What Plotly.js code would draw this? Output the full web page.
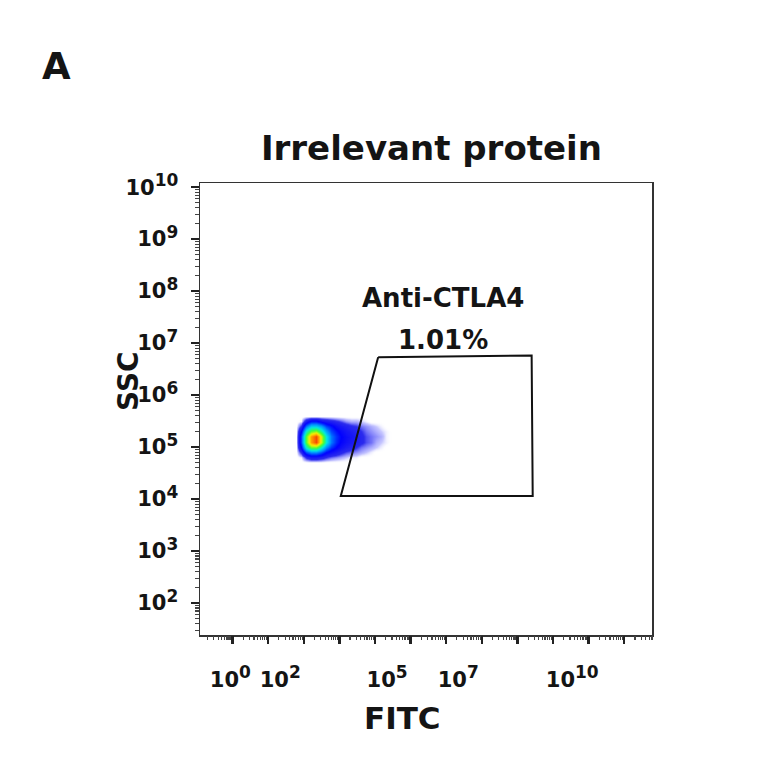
<!DOCTYPE html>
<html>
<head>
<meta charset="utf-8">
<script src="https://cdn.plot.ly/plotly-3.0.1.min.js"></script>
<style>html,body{margin:0;padding:0;background:#fff;}#chart{width:764px;height:764px;}</style>
</head>
<body>
<div id="chart"></div>
<script>
// ---- data (axis units are decades: log10 of the signal) ----
const panelLabel = "A";
const chartTitle = "Irrelevant protein";
const xTitle = "FITC";
const yTitle = "SSC";

// x tick labels and where they sit (decades)
const xTickPos = [0.6, 2.0, 5.0, 7.0, 10.2];
const xTickExp = ["0", "2", "5", "7", "10"];
// y tick labels
const yTickPos = [2, 3, 4, 5, 6, 7, 8, 9, 10];
const yTickExp = ["2", "3", "4", "5", "6", "7", "8", "9", "10"];

// density grid of the event cloud (FITC decades x SSC decades)
const densX = [2.46, 2.6, 2.74, 2.88, 3.02, 3.16, 3.3, 3.44, 3.58, 3.72, 3.86, 4.0, 4.14, 4.28, 4.42, 4.56, 4.7, 4.84, 4.98, 5.12];
const densY = [4.7, 4.8, 4.9, 5.0, 5.1, 5.2, 5.3, 5.4, 5.5, 5.6];
const densZ = [
  [0, 0.0, 0.0, 0.0, 0.0, 0.0, 0.0, 0.0, 0.0, 0.0, 0.0, 0.0, 0.0, 0.0, 0.0, 0.0, 0.0, 0.0, 0.0, 0],
  [0, 0.1, 0.8, 1.2, 1.2, 1.0, 0.7, 0.5, 0.4, 0.3, 0.2, 0.1, 0.1, 0.0, 0.0, 0.0, 0.0, 0.0, 0.0, 0],
  [0, 0.8, 2.5, 3.2, 3.2, 2.6, 1.8, 1.4, 1.1, 0.8, 0.6, 0.5, 0.4, 0.3, 0.2, 0.1, 0.0, 0.0, 0.0, 0],
  [0, 1.8, 4.8, 6.3, 6.3, 4.8, 3.2, 2.3, 1.8, 1.4, 1.1, 0.9, 0.7, 0.5, 0.4, 0.3, 0.2, 0.1, 0.0, 0],
  [0, 2.5, 6.2, 8.6, 9.6, 7.2, 4.6, 3.0, 2.2, 1.7, 1.4, 1.2, 1.0, 0.8, 0.6, 0.5, 0.3, 0.2, 0.1, 0],
  [0, 2.5, 6.2, 8.6, 9.6, 7.2, 4.6, 3.0, 2.3, 1.8, 1.5, 1.3, 1.1, 0.8, 0.6, 0.5, 0.4, 0.3, 0.1, 0],
  [0, 1.8, 4.8, 6.3, 6.7, 5.2, 3.6, 2.5, 2.0, 1.6, 1.3, 1.1, 0.9, 0.7, 0.5, 0.4, 0.3, 0.2, 0.1, 0],
  [0, 0.8, 3.0, 4.2, 4.2, 3.6, 2.5, 2.0, 1.5, 1.2, 1.0, 0.8, 0.7, 0.5, 0.4, 0.3, 0.2, 0.1, 0.0, 0],
  [0, 0.1, 1.2, 2.0, 2.0, 1.5, 1.2, 1.0, 0.8, 0.6, 0.4, 0.3, 0.3, 0.2, 0.1, 0.0, 0.0, 0.0, 0.0, 0],
  [0, 0.0, 0.0, 0.0, 0.0, 0.0, 0.0, 0.0, 0.0, 0.0, 0.0, 0.0, 0.0, 0.0, 0.0, 0.0, 0.0, 0.0, 0.0, 0]
];

// gate polygon (decades)
const gateX = [4.75, 9.06, 9.09, 3.70, 4.75];
const gateY = [6.73, 6.76, 4.06, 4.06, 6.73];
const gateName = "Anti-CTLA4";
const gatePct = "1.01%";
const gateLabelX = 6.57;
const gateLabelY = [7.87, 7.06];

// ---- presentation ----
const xRange = [-0.253, 12.44];
const yRange = [1.385, 10.08];
const FONT = "DejaVu Sans, Arial, sans-serif";
const INK = "#141414";
const pow10 = e => "<b>10<sup><span style=\"font-size:17px\">" + e + "</span></sup></b>";

function logTicks(start, lo, hi) {
  const major = [], minor = [];
  for (let d = Math.floor(lo) - 1; d <= Math.ceil(hi) + 1; d++) {
    const b = start + d;
    if (b >= lo && b <= hi) major.push(b);
    for (let k = 2; k <= 9; k++) {
      const v = b + Math.log10(k);
      if (v >= lo && v <= hi) minor.push(v);
    }
  }
  return {major, minor};
}
const xT = logTicks(0.66, xRange[0], xRange[1]);
const yT = logTicks(0, yRange[0], yRange[1]);

const traces = [
  {
    type: "heatmap", x: densX, y: densY, z: densZ,
    zmin: 0, zmax: 10, zsmooth: "best", showscale: false, hoverinfo: "skip",
    colorscale: [
      [0.0, "rgba(255,255,255,0)"],
      [0.02, "rgba(70,70,255,0.3)"],
      [0.07, "rgba(20,20,235,0.9)"],
      [0.18, "rgb(0,0,255)"],
      [0.32, "rgb(0,140,255)"],
      [0.45, "rgb(0,230,230)"],
      [0.6, "rgb(60,255,60)"],
      [0.75, "rgb(250,240,0)"],
      [0.88, "rgb(255,140,0)"],
      [1.0, "rgb(240,40,0)"]
    ],
    xaxis: "x", yaxis: "y"
  },
  {
    type: "scatter", mode: "lines", x: gateX, y: gateY,
    line: {color: "#111", width: 2}, hoverinfo: "skip", showlegend: false,
    xaxis: "x", yaxis: "y"
  },
  {
    // carrier so the tick-mark axis is drawn
    type: "scatter", mode: "markers", x: [gateX[0]], y: [gateY[0]],
    marker: {opacity: 0, size: 1}, hoverinfo: "skip", showlegend: false,
    xaxis: "x2", yaxis: "y"
  }
];

const layout = {
  width: 764, height: 764,
  margin: {l: 200, r: 112, t: 183, b: 129},
  paper_bgcolor: "#fff", plot_bgcolor: "#fff",
  showlegend: false,
  font: {family: FONT, color: INK},
  title: {
    text: "<b>" + chartTitle + "</b>",
    font: {family: FONT, size: 34, color: INK},
    xref: "paper", x: 0.512, xanchor: "center",
    yref: "container", y: 1 - 148 / 764, yanchor: "middle"
  },
  xaxis: {
    range: xRange, showgrid: false, zeroline: false,
    showline: true, linecolor: "#333", linewidth: 1.5, mirror: true,
    tickmode: "array", tickvals: xTickPos, ticktext: xTickExp.map(pow10),
    ticks: "", ticklabelstandoff: 25,
    tickfont: {family: FONT, size: 21, color: INK}
  },
  xaxis2: {
    overlaying: "x", anchor: "y", side: "bottom", range: xRange,
    showgrid: false, zeroline: false, showline: false, showticklabels: false,
    tickmode: "array", tickvals: xT.major, ticks: "outside", ticklen: 8, tickwidth: 2.4, tickcolor: "#222",
    minor: {tickmode: "array", tickvals: xT.minor, ticks: "outside", ticklen: 4, tickwidth: 1.2, tickcolor: "#444"}
  },
  yaxis: {
    range: yRange, showgrid: false, zeroline: false,
    showline: true, linecolor: "#333", linewidth: 1.5, mirror: true,
    tickmode: "array", tickvals: yTickPos, ticktext: yTickExp.map(pow10),
    ticks: "outside", ticklen: 8, tickwidth: 2.4, tickcolor: "#222",
    ticklabelstandoff: 8,
    tickfont: {family: FONT, size: 21, color: INK},
    minor: {tickmode: "array", tickvals: yT.minor, ticks: "outside", ticklen: 4, tickwidth: 1.2, tickcolor: "#444"}
  },
  annotations: [
    {text: "<b>" + panelLabel + "</b>", xref: "paper", yref: "paper",
     x: (56 - 200) / 452, y: (764 - 129 - 66) / 452, xanchor: "center", yanchor: "middle",
     showarrow: false, font: {family: FONT, size: 37, color: INK}},
    {text: "<b>" + xTitle + "</b>", xref: "paper", yref: "paper",
     x: (402 - 200) / 452, y: -(718 - 635) / 452, xanchor: "center", yanchor: "middle",
     showarrow: false, font: {family: FONT, size: 31, color: INK}},
    {text: "<b>" + yTitle + "</b>", xref: "paper", yref: "paper", textangle: -90,
     x: (128 - 200) / 452, y: (635 - 381) / 452, xanchor: "center", yanchor: "middle",
     showarrow: false, font: {family: FONT, size: 28, color: INK}},
    {text: "<b>" + gateName + "</b>", xref: "x", yref: "y", x: gateLabelX, y: gateLabelY[0],
     xanchor: "center", yanchor: "middle", showarrow: false, font: {family: FONT, size: 26, color: INK}},
    {text: "<b>" + gatePct + "</b>", xref: "x", yref: "y", x: gateLabelX, y: gateLabelY[1],
     xanchor: "center", yanchor: "middle", showarrow: false, font: {family: FONT, size: 26, color: INK}}
  ]
};

Plotly.newPlot("chart", traces, layout, {staticPlot: true, displayModeBar: false});
</script>
</body>
</html>
